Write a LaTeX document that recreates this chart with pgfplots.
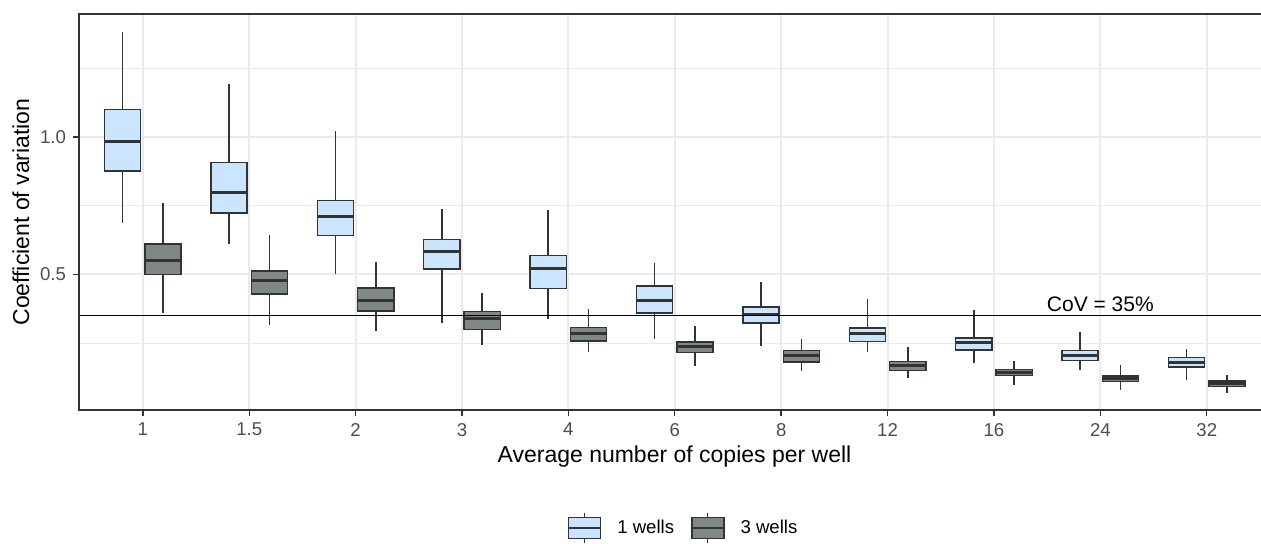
\documentclass[border=0pt]{standalone}
\usepackage{pgfplots}
\pgfplotsset{compat=1.18}
\usepgfplotslibrary{statistics}
\usepackage{fontspec}
\setmainfont{Liberation Sans}
\definecolor{boxblue}{HTML}{CCE5FF}
\definecolor{boxgray}{HTML}{7F8884}
\definecolor{edge}{HTML}{333333}
\definecolor{gridc}{HTML}{EBEBEB}
\definecolor{tickc}{HTML}{4D4D4D}
\newcommand{\bx}[7]{\addplot[#1, forget plot, boxplot prepared={draw direction=y, draw position=#2, lower whisker=#3, lower quartile=#4, median=#5, upper quartile=#6, upper whisker=#7, box extend=0.34, whisker extend=0}] coordinates {};}
\pgfplotsset{
  bbox/.style={draw=edge, line width=0.75pt, fill=#1},
  lbox/.style={legend image code/.code={
    \draw[draw=edge, line width=0.7pt, fill=#1] (0pt,-5.25pt) rectangle (16pt,5.25pt);
    \draw[edge, line width=0.7pt] (0pt,0pt) -- (16pt,0pt);
    \draw[edge, line width=0.6pt] (8pt,5.25pt) -- (8pt,7.5pt);
    \draw[edge, line width=0.6pt] (8pt,-5.25pt) -- (8pt,-7.5pt);
  }},
}
\begin{document}
\begin{tikzpicture}
\useasboundingbox (0,0) rectangle (630.5pt,271.5pt);
\begin{axis}[
  at={(39.5pt,66.5pt)}, anchor=south west,
  scale only axis, width=591pt, height=198pt,
  xmin=-0.6, xmax=10.51, ymin=0.006, ymax=1.448,
  clip=false,
  axis line style={draw=none},
  xtick={0,...,10},
  xticklabels={1,1.5,2,3,4,6,8,12,16,24,32},
  ytick={0.5,1.0},
  yticklabels={0.5,1.0},
  minor ytick={0.25,0.75,1.25},
  xtick pos=lower, ytick pos=left,
  grid=both,
  major grid style={color=gridc, line width=1pt},
  minor grid style={color=gridc, line width=0.5pt},
  tick align=outside,
  major tick length=3pt, minor tick length=0pt,
  tick style={color=edge, line width=0.7pt},
  ticklabel style={font=\fontsize{9.3}{11}\selectfont, color=tickc},
  /pgf/number format/assume math mode=true,
  xlabel={Average number of copies per well},
  ylabel={Coefficient of variation},
  every axis x label/.style={at={(rel axis cs:0.5038,0)}, yshift=-23.3pt, anchor=center, font=\fontsize{11.5}{13}\selectfont},
  every axis y label/.style={at={(rel axis cs:0,0.5)}, xshift=-29pt, rotate=90, anchor=center, font=\fontsize{11.5}{13}\selectfont},
  boxplot/every median/.style={line width=1.5pt},
  legend columns=2,
  legend style={at={(rel axis cs:0.5124,-0.298)}, anchor=center, draw=none, fill=none,
    font=\fontsize{9.3}{11}\selectfont,
    /tikz/every odd column/.append style={column sep=6pt},
    /tikz/every even column/.append style={column sep=6.5pt}},
]
% 1 well (blue)
\bx{bbox=boxblue}{-0.19}{0.688}{0.876}{0.982}{1.101}{1.381}
\bx{bbox=boxblue}{0.81}{0.611}{0.724}{0.797}{0.908}{1.193}
\bx{bbox=boxblue}{1.81}{0.500}{0.642}{0.712}{0.769}{1.021}
\bx{bbox=boxblue}{2.81}{0.322}{0.519}{0.582}{0.626}{0.739}
\bx{bbox=boxblue}{3.81}{0.336}{0.449}{0.520}{0.568}{0.733}
\bx{bbox=boxblue}{4.81}{0.263}{0.359}{0.403}{0.457}{0.541}
\bx{bbox=boxblue}{5.81}{0.239}{0.323}{0.352}{0.381}{0.471}
\bx{bbox=boxblue}{6.81}{0.217}{0.256}{0.285}{0.305}{0.411}
\bx{bbox=boxblue}{7.81}{0.176}{0.225}{0.251}{0.269}{0.370}
\bx{bbox=boxblue}{8.81}{0.150}{0.186}{0.204}{0.223}{0.291}
\bx{bbox=boxblue}{9.81}{0.115}{0.163}{0.180}{0.198}{0.227}
% 3 wells (gray)
\bx{bbox=boxgray}{0.19}{0.358}{0.500}{0.550}{0.610}{0.758}
\bx{bbox=boxgray}{1.19}{0.317}{0.428}{0.477}{0.513}{0.644}
\bx{bbox=boxgray}{2.19}{0.295}{0.366}{0.405}{0.450}{0.544}
\bx{bbox=boxgray}{3.19}{0.244}{0.300}{0.338}{0.364}{0.431}
\bx{bbox=boxgray}{4.19}{0.216}{0.258}{0.284}{0.307}{0.374}
\bx{bbox=boxgray}{5.19}{0.167}{0.216}{0.237}{0.253}{0.311}
\bx{bbox=boxgray}{6.19}{0.149}{0.181}{0.203}{0.222}{0.263}
\bx{bbox=boxgray}{7.19}{0.124}{0.150}{0.167}{0.182}{0.235}
\bx{bbox=boxgray}{8.19}{0.096}{0.131}{0.142}{0.154}{0.186}
\bx{bbox=boxgray}{9.19}{0.079}{0.109}{0.119}{0.130}{0.169}
\bx{bbox=boxgray}{10.19}{0.067}{0.092}{0.102}{0.112}{0.135}
% reference line
\addplot[black, line width=0.5pt, forget plot] coordinates {(-0.6,0.35) (10.51,0.35)};
\node[anchor=base, font=\fontsize{10.5}{12}\selectfont, inner sep=0pt] at (axis cs:9,0.35) [yshift=2pt] {CoV = 35\%};
\draw[edge, line width=0.6pt] (rel axis cs:1,1) -- (rel axis cs:0,1) -- (rel axis cs:0,0) -- (rel axis cs:1,0);
\addlegendimage{lbox=boxblue}
\addlegendentry{1 wells}
\addlegendimage{lbox=boxgray}
\addlegendentry{3 wells}
\end{axis}
\end{tikzpicture}
\end{document}
